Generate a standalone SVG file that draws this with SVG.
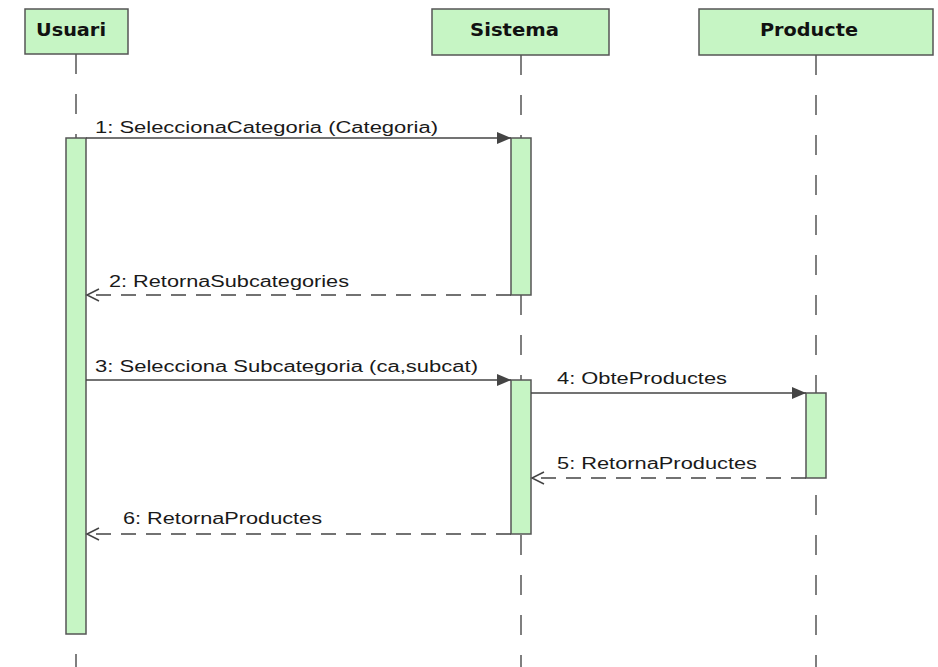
<svg xmlns="http://www.w3.org/2000/svg" width="938" height="667" viewBox="0 0 938 667">
  <style>
    .head { fill: #c6f5c4; stroke: #555555; stroke-width: 1.5; }
    .act { fill: #c6f5c4; stroke: #555555; stroke-width: 1.5; }
    .life { stroke: #555555; stroke-width: 1.5; stroke-dasharray: 20 20; fill: none; }
    .title { font-family: Tahoma, "DejaVu Sans", "Liberation Sans", sans-serif; font-weight: bold; font-size: 17px; fill: #111111; }
    .msg { stroke: #444444; stroke-width: 1.5; fill: none; }
    .ret { stroke: #444444; stroke-width: 1.5; fill: none; stroke-dasharray: 15 10; }
    .lbl { font-family: "Liberation Sans", Arial, sans-serif; font-size: 16px; fill: #1a1a1a; }
  </style>
  <defs>
    <!-- filled head for synchronous calls -->
    <marker id="call" markerWidth="16" markerHeight="14" refX="15" refY="7" orient="auto" markerUnits="userSpaceOnUse">
      <path d="M1,1 L15,7 L1,13 Z" fill="#444444"/>
    </marker>
    <!-- open head for replies -->
    <marker id="reply" markerWidth="16" markerHeight="14" refX="13" refY="7" orient="auto" markerUnits="userSpaceOnUse">
      <path d="M1,1 L13,7 L1,13" fill="none" stroke="#444444" stroke-width="1.5"/>
    </marker>
  </defs>
  <rect width="938" height="667" fill="#ffffff"/>

  <!-- lifelines -->
  <g id="lifelines">
    <line class="life" x1="76" y1="54" x2="76" y2="667"/>
    <line class="life" x1="521" y1="55" x2="521" y2="667"/>
    <line class="life" x1="816" y1="55" x2="816" y2="667"/>
  </g>

  <g id="usuari">
    <rect class="head" x="25" y="9" width="103" height="45"/>
    <text class="title" x="36" y="36" textLength="70" lengthAdjust="spacingAndGlyphs">Usuari</text>
    <rect class="act" x="66" y="138" width="20" height="496"/>
  </g>

  <g id="sistema">
    <rect class="head" x="432" y="9" width="177" height="46"/>
    <text class="title" x="470" y="36" textLength="89" lengthAdjust="spacingAndGlyphs">Sistema</text>
    <rect class="act" x="511" y="138" width="20" height="157"/>
    <rect class="act" x="511" y="380" width="20" height="154"/>
  </g>

  <g id="producte">
    <rect class="head" x="699" y="9" width="234" height="46"/>
    <text class="title" x="760" y="36" textLength="98" lengthAdjust="spacingAndGlyphs">Producte</text>
    <rect class="act" x="806" y="393" width="20" height="85"/>
  </g>

  <!-- messages -->
  <g id="connectors">
    <line class="msg" x1="86" y1="138" x2="511" y2="138" marker-end="url(#call)"/>
    <text class="lbl" x="95" y="133" textLength="343" lengthAdjust="spacingAndGlyphs">1: SeleccionaCategoria (Categoria)</text>

    <line class="ret" x1="511" y1="295" x2="87" y2="295" marker-end="url(#reply)"/>
    <text class="lbl" x="109" y="287" textLength="240" lengthAdjust="spacingAndGlyphs">2: RetornaSubcategories</text>

    <line class="msg" x1="86" y1="380" x2="511" y2="380" marker-end="url(#call)"/>
    <text class="lbl" x="95" y="372" textLength="383" lengthAdjust="spacingAndGlyphs">3: Selecciona Subcategoria (ca,subcat)</text>

    <line class="msg" x1="531" y1="393" x2="806" y2="393" marker-end="url(#call)"/>
    <text class="lbl" x="557" y="384" textLength="170" lengthAdjust="spacingAndGlyphs">4: ObteProductes</text>

    <line class="ret" x1="806" y1="478" x2="532" y2="478" marker-end="url(#reply)"/>
    <text class="lbl" x="557" y="469" textLength="200" lengthAdjust="spacingAndGlyphs">5: RetornaProductes</text>

    <line class="ret" x1="511" y1="534" x2="87" y2="534" marker-end="url(#reply)"/>
    <text class="lbl" x="123" y="524" textLength="199" lengthAdjust="spacingAndGlyphs">6: RetornaProductes</text>
  </g>
</svg>
